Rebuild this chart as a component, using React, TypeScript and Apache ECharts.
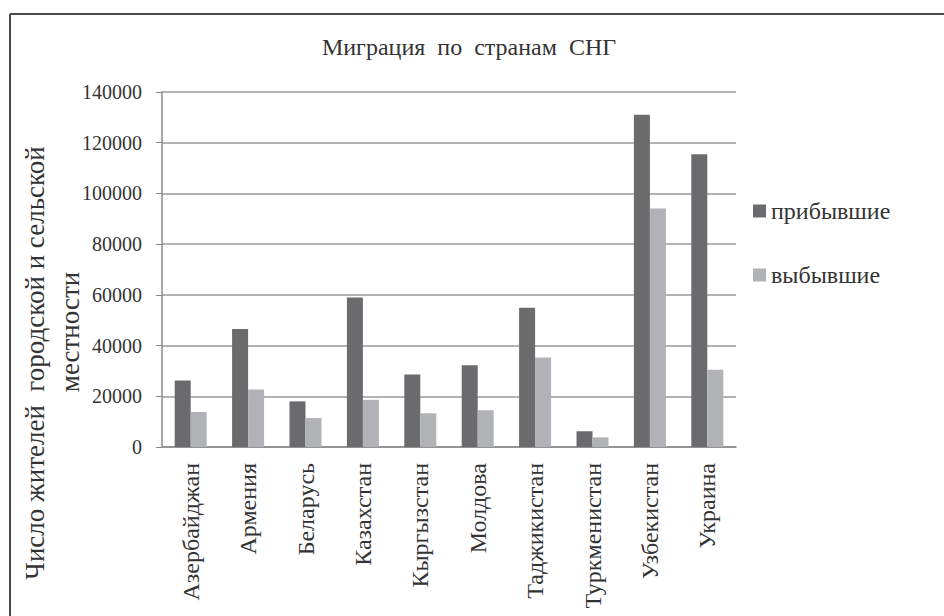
import React, { useEffect, useRef } from "react";
import * as echarts from "echarts";

const categories = [
  "Азербайджан",
  "Армения",
  "Беларусь",
  "Казахстан",
  "Кыргызстан",
  "Молдова",
  "Таджикистан",
  "Туркменистан",
  "Узбекистан",
  "Украина",
];
const arrived = [26200, 46500, 18000, 59000, 28600, 32200, 54900, 6200, 131000, 115500];
const departed = [13800, 22700, 11400, 18600, 13300, 14500, 35300, 3800, 94100, 30500];
const seriesNames = ["прибывшие", "выбывшие"];
const yTicks = { min: 0, max: 140000, interval: 20000 };
const titleText = "Миграция  по  странам  СНГ";
const yTitleLine1 = "Число жителей  городской и сельской";
const yTitleLine2 = "местности";

const FONT = "Liberation Serif";

export default function App() {
  const ref = useRef<HTMLDivElement>(null);
  useEffect(() => {
    if (!ref.current) return;
    const chart = echarts.init(ref.current, undefined, { renderer: "svg" });
    chart.setOption({
      animation: false,
      backgroundColor: "#ffffff",
      textStyle: { fontFamily: FONT },
      title: {
        text: titleText,
        left: 464,
        top: 30,
        textAlign: "center",
        textStyle: { fontFamily: FONT, fontSize: 24, fontWeight: "normal", color: "#333" },
      },
      legend: {
        orient: "vertical",
        left: 748,
        top: 194,
        itemWidth: 13,
        itemHeight: 13,
        itemGap: 40,
        icon: "rect",
        textStyle: { fontFamily: FONT, fontSize: 24, color: "#333" },
        data: seriesNames,
      },
      grid: { left: 162, right: 208, top: 92, bottom: 169, containLabel: false },
      xAxis: {
        type: "category",
        data: categories,
        axisLine: { show: true, lineStyle: { color: "#8a8a8a", width: 1.5 } },
        axisTick: { show: false },
        axisLabel: {
          rotate: 90,
          interval: 0,
          margin: 16,
          fontFamily: FONT,
          fontSize: 24,
          color: "#333",
        },
      },
      yAxis: {
        type: "value",
        min: yTicks.min,
        max: yTicks.max,
        interval: yTicks.interval,
        axisLine: { show: true, lineStyle: { color: "#8a8a8a", width: 1.5 } },
        axisTick: { show: true, length: 6, lineStyle: { color: "#8a8a8a" } },
        splitLine: { show: true, lineStyle: { color: "#9a9a9a", width: 1.5 } },
        axisLabel: {
          margin: 20,
          fontFamily: FONT,
          fontSize: 20,
          color: "#333",
          formatter: (v: number) => String(v),
        },
      },
      series: [
        {
          name: seriesNames[0],
          type: "bar",
          data: arrived,
          barWidth: 16,
          barGap: "0%",
          itemStyle: { color: "#6b6b6e" },
        },
        {
          name: seriesNames[1],
          type: "bar",
          data: departed,
          barWidth: 16,
          barGap: "0%",
          itemStyle: { color: "#b1b2b5" },
        },
      ],
      graphic: [
        {
          type: "line",
          shape: { x1: 10, y1: 14, x2: 944, y2: 14 },
          style: { stroke: "#4a4a4a", lineWidth: 2 },
        },
        {
          type: "line",
          shape: { x1: 10, y1: 14, x2: 10, y2: 616 },
          style: { stroke: "#4a4a4a", lineWidth: 2 },
        },
        {
          type: "text",
          x: 35,
          y: 363,
          rotation: Math.PI / 2,
          style: {
            text: yTitleLine1,
            fontFamily: FONT,
            fontSize: 27,
            fill: "#333",
            align: "center",
            verticalAlign: "middle",
          },
        },
        {
          type: "text",
          x: 70,
          y: 332,
          rotation: Math.PI / 2,
          style: {
            text: yTitleLine2,
            fontFamily: FONT,
            fontSize: 27,
            fill: "#333",
            align: "center",
            verticalAlign: "middle",
          },
        },
      ],
    });
    return () => chart.dispose();
  }, []);
  return (
    <div
      ref={ref}
      style={{ position: "fixed", left: 0, top: 0, width: 944, height: 616, background: "#fff" }}
    />
  );
}
